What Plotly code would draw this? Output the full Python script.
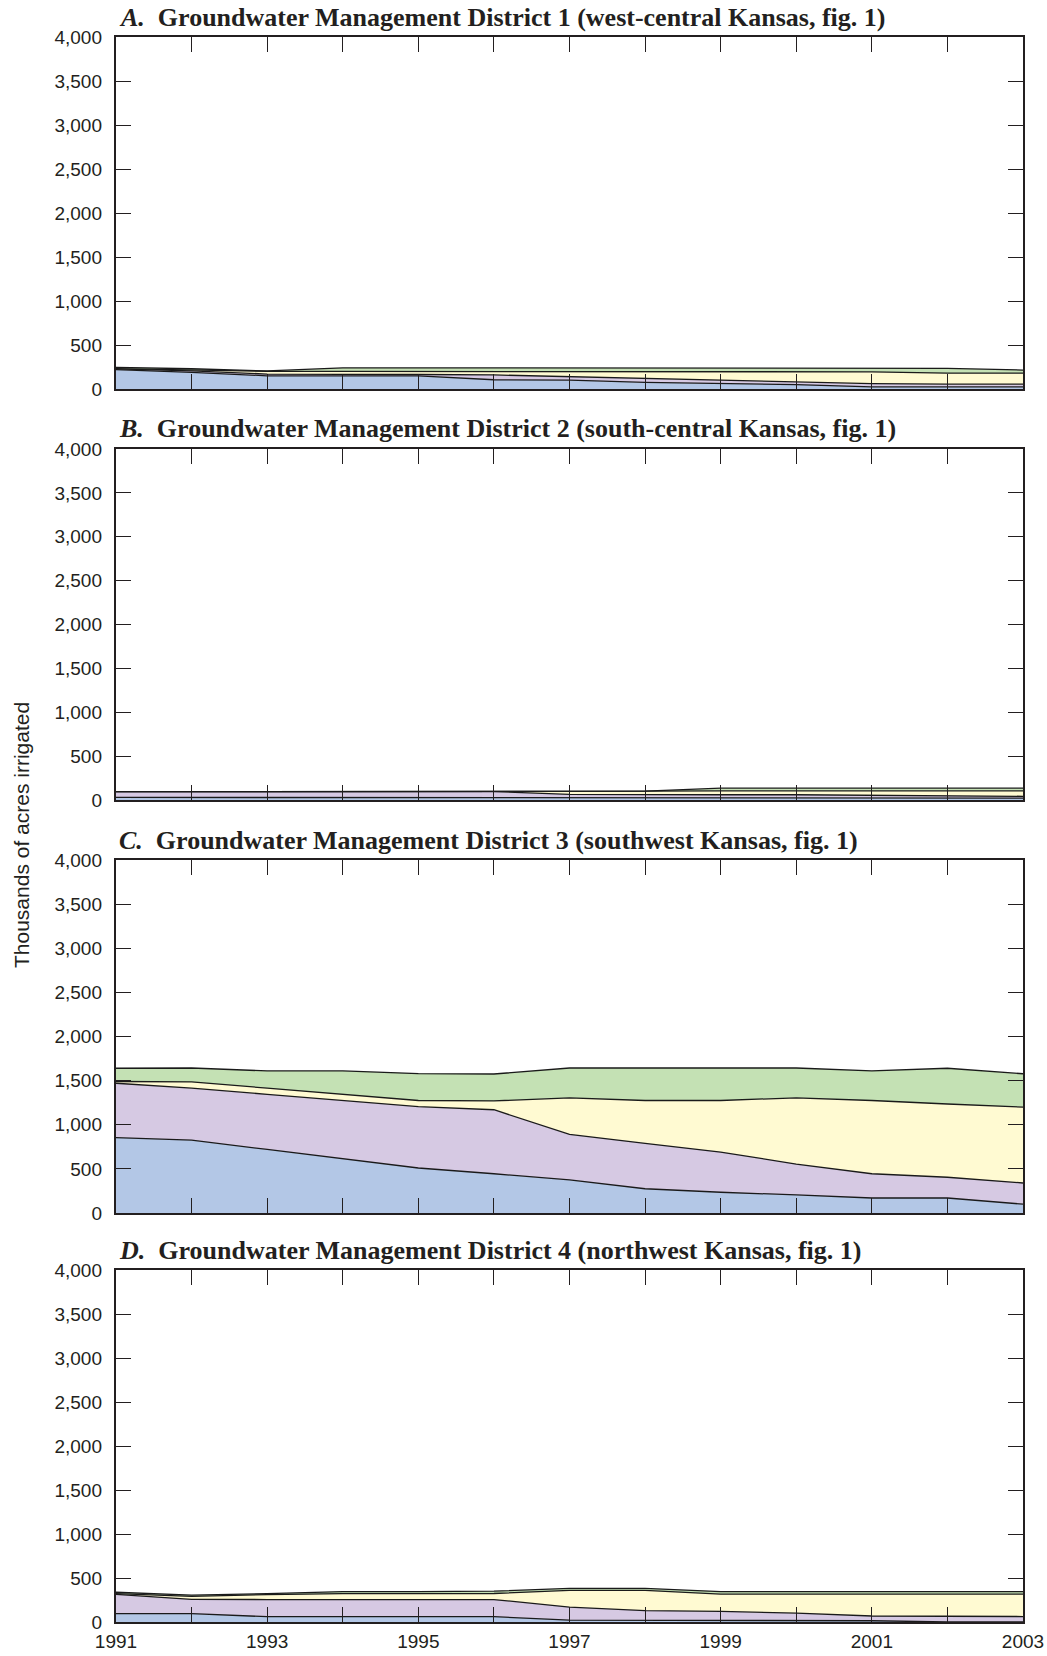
import plotly.graph_objects as go

years = list(range(1991, 2004))
year_labels = [str(y) if y % 2 == 1 else "" for y in years]
y_ticks = list(range(0, 4001, 500))

panel_titles = [
    "<i>A.</i>&nbsp;&nbsp;Groundwater Management District 1 (west-central Kansas, fig. 1)",
    "<i>B.</i>&nbsp;&nbsp;Groundwater Management District 2 (south-central Kansas, fig. 1)",
    "<i>C.</i>&nbsp;&nbsp;Groundwater Management District 3 (southwest Kansas, fig. 1)",
    "<i>D.</i>&nbsp;&nbsp;Groundwater Management District 4 (northwest Kansas, fig. 1)",
]
series_names = ["Series 1", "Series 2", "Series 3", "Series 4"]

# Thousands of acres irrigated, per series (stacked bottom to top)
gmd1_blue = [220, 190, 150, 150, 150, 105, 100, 75, 65, 50, 25, 25, 25]
gmd1_purple = [8, 15, 20, 20, 15, 55, 40, 45, 35, 35, 35, 30, 30]
gmd1_yellow = [4, 7, 30, 30, 35, 40, 60, 80, 100, 115, 135, 125, 125]
gmd1_green = [13, 18, 5, 40, 40, 40, 40, 40, 40, 40, 45, 55, 35]

gmd2_blue = [30, 30, 30, 30, 30, 30, 28, 28, 28, 28, 28, 22, 22]
gmd2_purple = [65, 65, 65, 65, 65, 65, 37, 32, 32, 32, 27, 20, 20]
gmd2_yellow = [0, 0, 0, 0, 0, 0, 30, 40, 45, 45, 50, 63, 63]
gmd2_green = [0, 0, 0, 0, 0, 0, 0, 0, 30, 30, 30, 30, 30]

gmd3_blue = [855, 825, 720, 615, 510, 445, 375, 275, 235, 205, 170, 170, 100]
gmd3_purple = [615, 590, 625, 660, 695, 725, 515, 515, 455, 350, 275, 235, 240]
gmd3_yellow = [20, 70, 70, 70, 70, 100, 415, 485, 585, 750, 830, 830, 860]
gmd3_green = [150, 158, 195, 265, 305, 305, 338, 368, 368, 338, 335, 405, 378]

gmd4_blue = [95, 95, 60, 60, 60, 60, 22, 20, 20, 20, 14, 0, 0]
gmd4_purple = [220, 163, 195, 195, 195, 195, 148, 110, 100, 80, 54, 62, 62]
gmd4_yellow = [7, 34, 57, 67, 67, 69, 190, 230, 197, 217, 249, 255, 255]
gmd4_green = [16, 13, 10, 24, 24, 26, 22, 22, 29, 29, 29, 29, 29]

panels = [
    [gmd1_blue, gmd1_purple, gmd1_yellow, gmd1_green],
    [gmd2_blue, gmd2_purple, gmd2_yellow, gmd2_green],
    [gmd3_blue, gmd3_purple, gmd3_yellow, gmd3_green],
    [gmd4_blue, gmd4_purple, gmd4_yellow, gmd4_green],
]
fill_colors = ["#b3c7e6", "#d6c9e3", "#fffad2", "#c4e1b4"]

W, H = 1047, 1656
plot_left, plot_right = 116, 1023
panel_px = [(37, 389), (449, 800), (860, 1213), (1270, 1622)]

fig = go.Figure()
tick_font = dict(family="Liberation Sans Narrow, Arial Narrow, sans-serif",
                 size=19, color="#231f20")
frame = "#231f20"

for i, series in enumerate(panels):
    n = i + 1
    xa = "x" if n == 1 else f"x{n}"
    ya = "y" if n == 1 else f"y{n}"
    for j, vals in enumerate(series):
        fig.add_trace(go.Scatter(
            x=years, y=vals, name=series_names[j], mode="lines",
            stackgroup=f"g{n}", fillcolor=fill_colors[j],
            line=dict(color="#1a1a1a", width=1.3),
            xaxis=xa, yaxis=ya, showlegend=False, hoverinfo="x+y+name",
        ))
    top, bot = panel_px[i]
    dom_y = [1 - bot / H, 1 - top / H]
    xkey = "xaxis" if n == 1 else f"xaxis{n}"
    ykey = "yaxis" if n == 1 else f"yaxis{n}"
    fig.layout[xkey] = dict(
        domain=[plot_left / W, plot_right / W], anchor=ya, range=[1991, 2003],
        tickvals=years, ticktext=year_labels, ticks="inside", ticklen=15,
        tickwidth=1.4, tickcolor=frame, showline=True, linewidth=2.4,
        linecolor=frame, mirror="ticks", showgrid=False, zeroline=False,
        showticklabels=(n == 4), tickfont=tick_font, ticklabelstandoff=1,
        automargin=False,
    )
    fig.layout[ykey] = dict(
        domain=dom_y, anchor=xa, range=[0, 4000], tickvals=y_ticks,
        tickformat=",", ticks="inside", ticklen=15, tickwidth=1.4,
        tickcolor=frame, showline=True, linewidth=2.4, linecolor=frame,
        mirror="ticks", showgrid=False, zeroline=False, tickfont=tick_font,
        ticklabelstandoff=8, automargin=False,
    )
    fig.add_annotation(
        text=f"<b>{panel_titles[i]}</b>", xref="paper", yref="paper",
        x=(plot_left + 1) / W, y=1 - (top - 20) / H, xanchor="left", yanchor="middle",
        showarrow=False,
        font=dict(family="Liberation Serif, Times New Roman, serif", size=26, color="#231f20"),
    )

fig.add_annotation(
    text="Thousands of acres irrigated", xref="paper", yref="paper",
    x=21 / W, y=1 - 835 / H, xanchor="center", yanchor="middle", textangle=-90,
    showarrow=False,
    font=dict(family="Liberation Sans, Arial, sans-serif", size=21, color="#231f20"),
)

fig.update_layout(
    width=W, height=H, margin=dict(l=0, r=0, t=0, b=0, autoexpand=False),
    paper_bgcolor="white", plot_bgcolor="white",
)

fig.write_html("out.html")
